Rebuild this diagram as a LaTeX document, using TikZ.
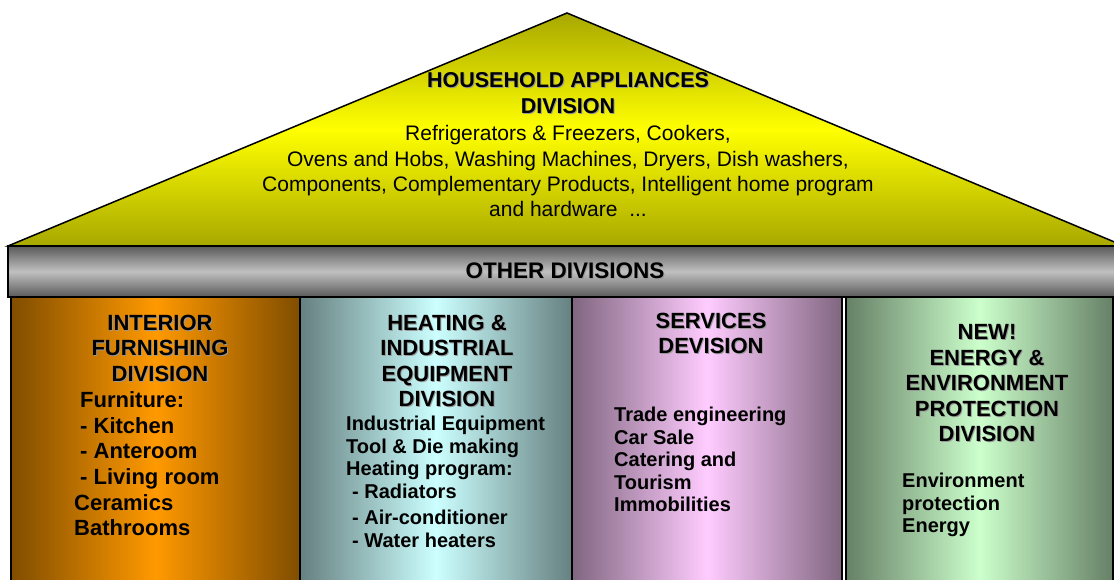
\documentclass[tikz,border=0pt]{standalone}
\usepackage{fontspec}
\setmainfont{Liberation Sans}
\definecolor{roofdark}{HTML}{A8A800}
\definecolor{roofmid}{HTML}{FFFF00}
\definecolor{beamdark}{HTML}{5A5A5A}
\definecolor{beamlight}{HTML}{C0C0C0}
\definecolor{orangedark}{HTML}{804D00}
\definecolor{orangelight}{HTML}{FF9900}
\definecolor{tealdark}{HTML}{668080}
\definecolor{teallight}{HTML}{CCFFFF}
\definecolor{violetdark}{HTML}{806680}
\definecolor{violetlight}{HTML}{FFCCFF}
\definecolor{greendark}{HTML}{668066}
\definecolor{greenlight}{HTML}{CCFFCC}
\newcommand\shd[1]{\makebox[0pt][l]{\kern1pt\raisebox{-1pt}{\color{black!40}#1}}#1}
\tikzset{
  pillar/.style={draw, line width=1.5pt},
  head/.style={font=\bfseries\fontsize{22}{25.5}\selectfont, align=center, inner sep=0pt, anchor=north},
  items/.style={font=\bfseries\fontsize{20}{22.6}\selectfont, align=left, inner sep=0pt, anchor=north west},
}
\begin{document}
\begin{tikzpicture}[x=1pt, y=1pt, line join=miter]
\clip (0,0) rectangle (1114,579);
% roof and beam
\draw[line width=1.5pt, top color=roofdark, bottom color=roofdark, middle color=roofmid] (8,333) -- (567,566) -- (1124,333) -- cycle;
\draw[line width=1.5pt, top color=beamdark, bottom color=beamdark, middle color=beamlight] (8,282) rectangle (1130,333);
% pillars
\draw[pillar, left color=orangedark, right color=orangedark, middle color=orangelight] (11,-5) rectangle (300,282);
\draw[pillar, left color=tealdark, right color=tealdark, middle color=teallight] (300,-5) rectangle (572,282);
\draw[pillar, left color=violetdark, right color=violetdark, middle color=violetlight] (572,-5) rectangle (842,282);
\draw[pillar, left color=greendark, right color=greendark, middle color=greenlight] (846,-5) rectangle (1113,282);

\node[head, font=\bfseries\fontsize{21.5}{26}\selectfont] (roofhead) at (568,506.5) {\shd{HOUSEHOLD APPLIANCES}\\\shd{DIVISION}};
\node[font=\fontsize{21}{25.3}\selectfont, align=center, inner sep=0pt, anchor=north] (roofitems) at (568,453.5)
  {Refrigerators \& Freezers, Cookers,\\Ovens and Hobs, Washing Machines, Dryers, Dish washers,\\Components, Complementary Products, Intelligent home program\\and hardware\ \ ...};
\node[font=\bfseries\fontsize{22.5}{26}\selectfont, inner sep=0pt] (other) at (565,308) {\shd{OTHER DIVISIONS}};

\node[head] (furnhead) at (160,264.5) {\shd{INTERIOR}\\\shd{FURNISHING}\\\shd{DIVISION}};
\node[items, font=\bfseries\fontsize{22}{25.6}\selectfont] (furnitems) at (74,187.5)
  {\hspace*{6pt}Furniture:\\\hspace*{6pt}- Kitchen\\\hspace*{6pt}- Anteroom\\\hspace*{6pt}- Living room\\Ceramics\\Bathrooms};

\node[head] (heathead) at (447,264.5) {\shd{HEATING \&}\\\shd{INDUSTRIAL}\\\shd{EQUIPMENT}\\\shd{DIVISION}};
\node[items] (heatitems) at (346,163.2)
  {Industrial Equipment\\Tool \& Die making\\Heating program:\\\hspace*{6pt}- Radiators\\[4pt]\hspace*{6pt}- Air-conditioner\\\hspace*{6pt}- Water heaters};

\node[head] (servhead) at (711,266.5) {\shd{SERVICES}\\\shd{DEVISION}};
\node[items] (servitems) at (614,172.2) {Trade engineering\\Car Sale\\Catering and\\Tourism\\Immobilities};

\node[head] (enerhead) at (987,254.5) {\shd{NEW!}\\\shd{ENERGY \&}\\\shd{ENVIRONMENT}\\\shd{PROTECTION}\\\shd{DIVISION}};
\node[items] (eneritems) at (902,106.2) {Environment\\protection\\Energy};
\end{tikzpicture}
\end{document}
